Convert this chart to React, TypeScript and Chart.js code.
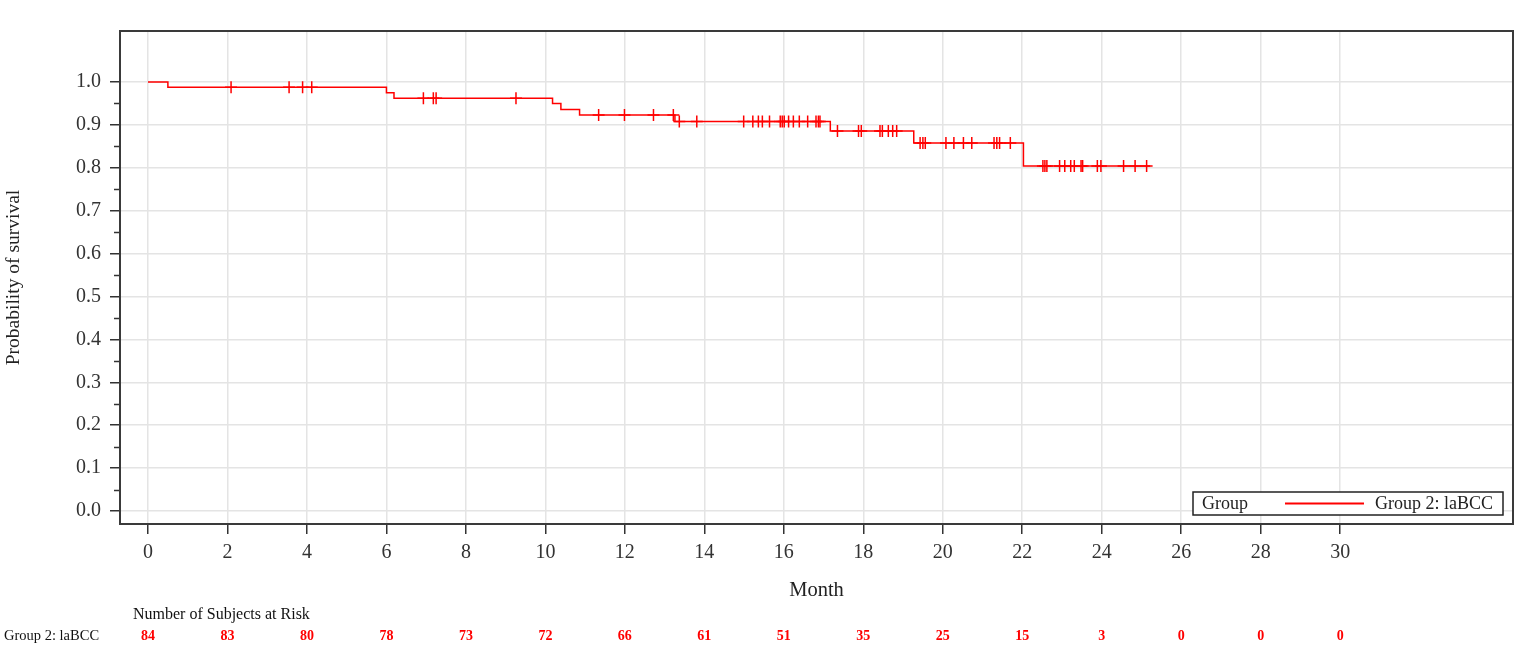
import React, { useEffect, useRef } from 'react';
import { Chart, registerables } from 'chart.js';

Chart.register(...registerables);

const FONT = "'Liberation Serif', 'Times New Roman', serif";

const seriesName = 'Group 2: laBCC';
const legendTitle = 'Group';
const xTitle = 'Month';
const yTitle = 'Probability of survival';
const riskTitle = 'Number of Subjects at Risk';

// Kaplan-Meier steps (time of event, survival after event)
const eventTimes = [0, 0.5, 6.0, 6.19, 10.18, 10.39, 10.86, 13.26, 17.17, 19.27, 22.03];
const survival = [1.0, 0.988, 0.975, 0.962, 0.95, 0.936, 0.923, 0.908, 0.886, 0.858, 0.804];
const lastFollowUp = 25.22;

// censored observations (months)
const censorTimes = [
  2.09, 3.55, 3.89, 4.12,
  6.93, 7.18, 7.25, 9.26,
  11.34, 11.99, 12.72, 13.22,
  13.37, 13.81, 14.99, 15.22, 15.36, 15.46, 15.64, 15.91, 15.96, 16.01, 16.12, 16.24, 16.39, 16.6, 16.81, 16.87, 16.91,
  17.35, 17.88, 17.95, 18.42, 18.48, 18.63, 18.74, 18.84,
  19.43, 19.5, 19.56, 20.08, 20.28, 20.52, 20.73, 21.29, 21.36, 21.43, 21.7,
  22.52, 22.57, 22.62, 22.94, 23.07, 23.22, 23.31, 23.48, 23.52, 23.89, 23.98, 24.55, 24.84, 25.13,
];

const xTickValues = [0, 2, 4, 6, 8, 10, 12, 14, 16, 18, 20, 22, 24, 26, 28, 30];
const yTickValues = [0, 0.1, 0.2, 0.3, 0.4, 0.5, 0.6, 0.7, 0.8, 0.9, 1.0];
const yMinorTickValues = [0.05, 0.15, 0.25, 0.35, 0.45, 0.55, 0.65, 0.75, 0.85, 0.95];

const riskTimes = [0, 2, 4, 6, 8, 10, 12, 14, 16, 18, 20, 22, 24, 26, 28, 30];
const atRisk = [84, 83, 80, 78, 73, 72, 66, 61, 51, 35, 25, 15, 3, 0, 0, 0];

const X_MIN = -0.705;
const X_MAX = 34.35;
const Y_MIN = -0.0303;
const Y_MAX = 1.119;

function survAt(t: number): number {
  let s = survival[0];
  for (let i = 0; i < eventTimes.length; i++) {
    if (eventTimes[i] <= t) s = survival[i];
  }
  return s;
}

const decorPlugin = {
  id: 'kmDecor',
  afterDraw(chart: any) {
    const { ctx, chartArea } = chart;
    const { left, right, top, bottom } = chartArea;
    const xs = chart.scales.x;
    const ys = chart.scales.y;
    ctx.save();

    // minor y ticks
    ctx.strokeStyle = '#333333';
    ctx.lineWidth = 1.5;
    yMinorTickValues.forEach((v) => {
      const y = Math.round(ys.getPixelForValue(v)) + 0.5;
      ctx.beginPath();
      ctx.moveTo(left - 6, y);
      ctx.lineTo(left, y);
      ctx.stroke();
    });

    // frame
    ctx.strokeStyle = '#3a3a3a';
    ctx.lineWidth = 2;
    ctx.strokeRect(left, top, right - left, bottom - top);

    // legend box
    ctx.font = `18px ${FONT}`;
    const groupW = ctx.measureText(legendTitle).width;
    const nameW = ctx.measureText(seriesName).width;
    const boxRight = right - 10;
    const boxBottom = bottom - 9;
    const boxH = 23;
    const boxW = 9 + groupW + 37 + 79 + 11 + nameW + 10;
    const boxLeft = boxRight - boxW;
    const boxTop = boxBottom - boxH;
    ctx.fillStyle = '#ffffff';
    ctx.fillRect(boxLeft, boxTop, boxW, boxH);
    ctx.strokeStyle = '#222222';
    ctx.lineWidth = 1.5;
    ctx.strokeRect(boxLeft, boxTop, boxW, boxH);
    const midY = boxTop + boxH / 2;
    ctx.fillStyle = '#222222';
    ctx.textBaseline = 'middle';
    ctx.textAlign = 'left';
    ctx.fillText(legendTitle, boxLeft + 9, midY + 1);
    const lineX0 = boxLeft + 9 + groupW + 37;
    ctx.strokeStyle = '#ff0000';
    ctx.lineWidth = 2;
    ctx.beginPath();
    ctx.moveTo(lineX0, midY);
    ctx.lineTo(lineX0 + 79, midY);
    ctx.stroke();
    ctx.fillStyle = '#222222';
    ctx.fillText(seriesName, lineX0 + 79 + 11, midY + 1);

    // at-risk table
    ctx.font = `16px ${FONT}`;
    ctx.fillStyle = '#111111';
    ctx.textAlign = 'left';
    ctx.fillText(riskTitle, 133, 615);
    ctx.font = `14.5px ${FONT}`;
    ctx.fillText(seriesName, 4, 636);
    ctx.font = `bold 14px ${FONT}`;
    ctx.fillStyle = '#ff0000';
    ctx.textAlign = 'center';
    riskTimes.forEach((t, i) => {
      ctx.fillText(String(atRisk[i]), xs.getPixelForValue(t), 636);
    });

    ctx.restore();
  },
};

export default function App() {
  const canvasRef = useRef<HTMLCanvasElement | null>(null);

  useEffect(() => {
    const canvas = canvasRef.current;
    if (!canvas) return;

    const kmData = eventTimes.map((t, i) => ({ x: t, y: survival[i] }));
    kmData.push({ x: lastFollowUp, y: survival[survival.length - 1] });
    const censorData = censorTimes.map((t) => ({ x: t, y: survAt(t) }));

    const chart = new Chart(canvas, {
      type: 'line',
      data: {
        datasets: [
          {
            label: seriesName,
            data: kmData,
            stepped: true,
            borderColor: '#ff0000',
            borderWidth: 1.5,
            pointRadius: 0,
            fill: false,
          } as any,
          {
            label: 'Censored',
            data: censorData,
            showLine: false,
            pointStyle: 'cross',
            pointRadius: 6,
            borderColor: '#ff0000',
            backgroundColor: '#ff0000',
            borderWidth: 1.5,
          } as any,
        ],
      },
      options: {
        responsive: false,
        animation: false,
        events: [],
        layout: { padding: { left: 0, top: 31, right: 17, bottom: 56 } },
        plugins: {
          legend: { display: false },
          tooltip: { enabled: false },
          title: { display: false },
        },
        scales: {
          x: {
            type: 'linear',
            min: X_MIN,
            max: X_MAX,
            afterBuildTicks: (s: any) => {
              s.ticks = xTickValues.map((v) => ({ value: v }));
            },
            afterFit: (s: any) => {
              s.height = 80;
            },
            border: { display: false },
            grid: {
              color: '#e4e4e4',
              lineWidth: 1.5,
              drawTicks: true,
              tickLength: 10,
              tickColor: '#333333',
              tickWidth: 1.5,
            },
            ticks: {
              autoSkip: false,
              maxRotation: 0,
              padding: 7,
              color: '#333333',
              font: { family: FONT, size: 20 },
              callback: (v: any) => String(v),
            },
            title: {
              display: true,
              text: xTitle,
              color: '#222222',
              font: { family: FONT, size: 20.5 },
              padding: { top: 0, bottom: 1 },
            },
          },
          y: {
            type: 'linear',
            min: Y_MIN,
            max: Y_MAX,
            afterBuildTicks: (s: any) => {
              s.ticks = yTickValues.map((v) => ({ value: v }));
            },
            afterFit: (s: any) => {
              s.width = 120;
            },
            border: { display: false },
            grid: {
              color: '#e4e4e4',
              lineWidth: 1.5,
              drawTicks: true,
              tickLength: 10,
              tickColor: '#333333',
              tickWidth: 1.5,
            },
            ticks: {
              autoSkip: false,
              padding: 9,
              color: '#333333',
              font: { family: FONT, size: 20 },
              callback: (v: any) => Number(v).toFixed(1),
            },
            title: {
              display: true,
              text: yTitle,
              color: '#222222',
              font: { family: FONT, size: 19.5 },
              padding: { top: 2, bottom: 0 },
            },
          },
        },
      },
      plugins: [decorPlugin],
    } as any);

    return () => {
      chart.destroy();
    };
  }, []);

  return (
    <div style={{ position: 'fixed', left: 0, top: 0, width: 1530, height: 660, background: '#ffffff' }}>
      <canvas ref={canvasRef} width={1530} height={660} style={{ display: 'block' }} />
    </div>
  );
}
